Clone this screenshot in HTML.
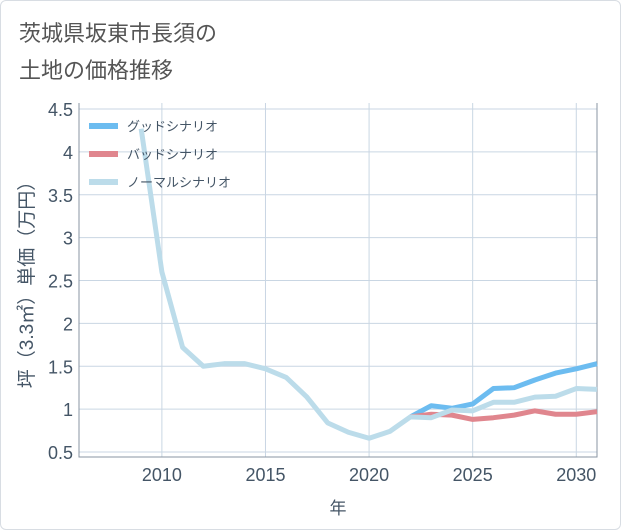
<!DOCTYPE html>
<html><head><meta charset="utf-8"><style>
body{margin:0;background:#fff;}
#wrap{position:relative;width:619px;height:528px;border:1px solid #d8dde3;border-radius:6px;overflow:hidden;font-family:"Liberation Sans","Noto Sans CJK JP",sans-serif;}
#title{position:absolute;left:18px;top:14px;font-size:22px;line-height:37px;color:#555;}
</style></head><body>
<div id="wrap">
<div id="title">茨城県坂東市長須の<br>土地の価格推移</div>
<svg id="chart" width="621" height="530" style="position:absolute;left:-1px;top:-1px"></svg>
</div>
<script>
const years=[2009,2010,2011,2012,2013,2014,2015,2016,2017,2018,2019,2020,2021,2022,2023,2024,2025,2026,2027,2028,2029,2030,2031];
const normal=[4.27,2.6,1.72,1.5,1.53,1.53,1.47,1.37,1.14,0.84,0.73,0.66,0.74,0.91,0.9,0.99,0.98,1.08,1.08,1.14,1.15,1.24,1.23];
const goodYears=[2022,2023,2024,2025,2026,2027,2028,2029,2030,2031];
const good=[0.91,1.04,1.01,1.06,1.24,1.25,1.34,1.42,1.47,1.53];
const badYears=[2022,2023,2024,2025,2026,2027,2028,2029,2030,2031];
const bad=[0.91,0.94,0.93,0.88,0.9,0.93,0.98,0.94,0.94,0.97];
const yTicks=[0.5,1,1.5,2,2.5,3,3.5,4,4.5];
const xTicks=[2010,2015,2020,2025,2030];
const svg=document.getElementById('chart');const NS='http://www.w3.org/2000/svg';
const L=79,R=597,T=103,B=457;
const x=v=>L+(v-2006)/(2031-2006)*(R-L);
const y=v=>452-(v-0.5)/4*343;
function mk(t,a,p){const e=document.createElementNS(NS,t);for(const k in a)e.setAttribute(k,a[k]);(p||svg).appendChild(e);return e;}
for(const t of yTicks){const g=mk('line',{x1:L,x2:R,y1:y(t),y2:y(t),stroke:'#c9d6e3','stroke-width':1});

const tx=mk('text',{x:L-6,y:y(t)+7,'text-anchor':'end','font-size':18,fill:'#445566'});tx.textContent=t;
}
for(const t of xTicks){const g=mk('line',{x1:x(t),x2:x(t),y1:T,y2:B,stroke:'#c9d6e3','stroke-width':1});

const tx=mk('text',{x:x(t),y:B+24,'text-anchor':'middle','font-size':18,fill:'#445566'});tx.textContent=t;
}
const ax=mk('path',{d:`M${L} ${T}V${B}H${R}V${T}`,fill:'none',stroke:'#8a96a3','stroke-width':1});

function line(xs,vs,c,n){const p=mk('polyline',{points:xs.map((v,i)=>x(v)+','+y(vs[i])).join(' '),fill:'none',stroke:c,'stroke-width':5,'stroke-linejoin':'round'});
}
line(goodYears,good,'#6cbcf0','good-scenario-line');
line(badYears,bad,'#e0868e','bad-scenario-line');
line(years,normal,'#bcdcea','normal-scenario-line');
const leg=[['グッドシナリオ','#6cbcf0'],['バッドシナリオ','#e0868e'],['ノーマルシナリオ','#bcdcea']];
leg.forEach((l,i)=>{const yy=126+i*28;const r=mk('rect',{x:89,y:yy-3,width:29,height:6,fill:l[1]});

const t=mk('text',{x:127,y:yy+5,'font-size':13,fill:'#445566'});t.textContent=l[0];
});
const xt=mk('text',{x:(L+R)/2,y:514,'text-anchor':'middle','font-size':17,fill:'#445566'});xt.textContent='年';

const yt=mk('text',{x:0,y:0,'text-anchor':'middle','font-size':19,fill:'#445566',transform:`translate(33,${(T+B)/2}) rotate(-90)`});yt.textContent='坪（3.3㎡）単価（万円）';

</script>
</body></html>
